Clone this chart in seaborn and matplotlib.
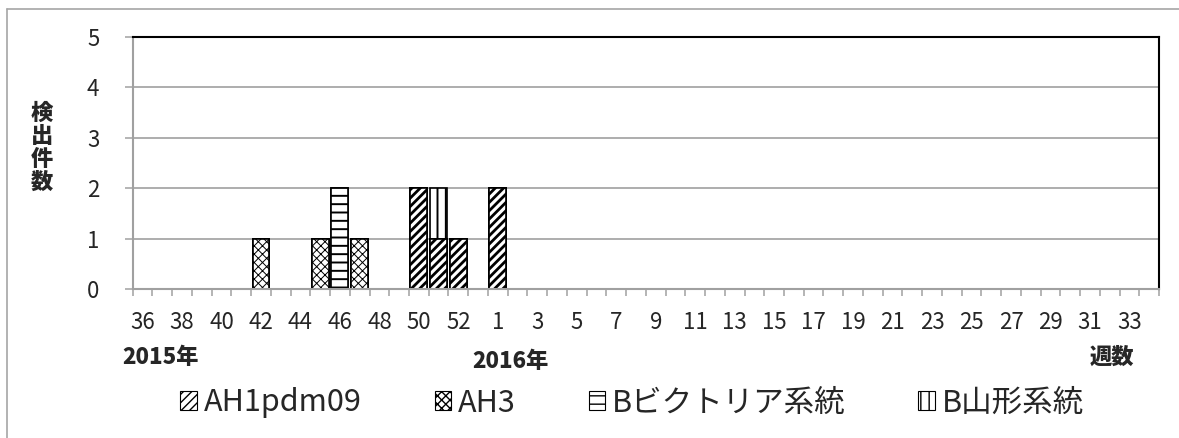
import numpy as np
import pandas as pd
import matplotlib
matplotlib.use("Agg")
import matplotlib.pyplot as plt
from matplotlib.patches import Patch
from matplotlib.lines import Line2D
import seaborn as sns

# week categories: 2015 wk36-53, then 2016 wk1-34
weeks = [str(w) for w in range(36, 54)] + [str(w) for w in range(1, 35)]

#           36 37 38 39 40 41 42 43 44 45 46 47 48 49 50 51 52 53
ah1pdm09 = [0, 0, 0, 0, 0, 0, 0, 0, 0, 0, 0, 0, 0, 0, 2, 1, 1, 0,
            2, 0, 0, 0, 0, 0, 0, 0, 0, 0, 0, 0, 0, 0, 0, 0, 0, 0,
            0, 0, 0, 0, 0, 0, 0, 0, 0, 0, 0, 0, 0, 0, 0, 0]
ah3 = [0, 0, 0, 0, 0, 0, 1, 0, 0, 1, 0, 1, 0, 0, 0, 0, 0, 0,
       0, 0, 0, 0, 0, 0, 0, 0, 0, 0, 0, 0, 0, 0, 0, 0, 0, 0,
       0, 0, 0, 0, 0, 0, 0, 0, 0, 0, 0, 0, 0, 0, 0, 0]
b_victoria = [0, 0, 0, 0, 0, 0, 0, 0, 0, 0, 2, 0, 0, 0, 0, 0, 0, 0,
              0, 0, 0, 0, 0, 0, 0, 0, 0, 0, 0, 0, 0, 0, 0, 0, 0, 0,
              0, 0, 0, 0, 0, 0, 0, 0, 0, 0, 0, 0, 0, 0, 0, 0]
b_yamagata = [0, 0, 0, 0, 0, 0, 0, 0, 0, 0, 0, 0, 0, 0, 0, 1, 0, 0,
              0, 0, 0, 0, 0, 0, 0, 0, 0, 0, 0, 0, 0, 0, 0, 0, 0, 0,
              0, 0, 0, 0, 0, 0, 0, 0, 0, 0, 0, 0, 0, 0, 0, 0]

series = ["AH1pdm09", "AH3", "Bビクトリア系統", "B山形系統"]
hatches = ["////", "xxxx", "--", "||"]
hatch_lw = [2.0, 0.7, 1.4, 1.4]

df = pd.DataFrame({"week": weeks, "AH1pdm09": ah1pdm09, "AH3": ah3,
                   "Bビクトリア系統": b_victoria, "B山形系統": b_yamagata})
cum = df[series].cumsum(axis=1)

sns.set_style("white")
plt.rcParams["font.family"] = ["Noto Sans CJK JP", "DejaVu Sans"]

fig = plt.figure(figsize=(11.79, 4.38), dpi=100)
ax = fig.add_axes([132.7 / 1179, 1 - 289 / 438, (1159 - 132.7) / 1179, (289 - 36.7) / 438])

# stacked look: draw cumulative totals from the top layer down
for name, hatch, hlw in reversed(list(zip(series, hatches, hatch_lw))):
    plt.rcParams["hatch.linewidth"] = hlw
    d = pd.DataFrame({"week": weeks, "h": cum[name].replace(0, np.nan)})
    sns.barplot(data=d, x="week", y="h", order=weeks, color="white", saturation=1,
                edgecolor="black", linewidth=1.2, hatch=hatch, width=0.86,
                errorbar=None, ax=ax)

grey = "#a0a0a0"
ax.set_xlabel("")
ax.set_ylabel("")
ax.set_xlim(-0.5, 51.5)
ax.set_ylim(0, 5)
ax.set_yticks(range(6))
ax.set_xticks(np.arange(-0.5, 52, 1))
ax.set_xticklabels([])
ax.set_xticks(np.arange(0, 52, 2), [weeks[i] for i in range(0, 52, 2)], minor=True)
ax.tick_params(axis="x", which="major", length=5, width=1.1, color=grey, bottom=True)
ax.tick_params(axis="x", which="minor", length=0, pad=16, labelsize=16, bottom=True)
ax.tick_params(axis="y", which="major", length=6, width=1.1, color=grey, pad=18,
               labelsize=16, left=True)
ax.yaxis.grid(True, color=grey, lw=1.2)
ax.set_axisbelow(True)
for s in ["top", "right"]:
    ax.spines[s].set_color("black")
    ax.spines[s].set_linewidth(1.5)
for s in ["left", "bottom"]:
    ax.spines[s].set_color(grey)
    ax.spines[s].set_linewidth(1.5)

fig.text(42 / 1179, 1 - 148 / 438, "検\n出\n件\n数", ha="center", va="center",
         fontsize=16, fontweight="heavy", linespacing=1.0)
fig.text(161 / 1179, 1 - 357 / 438, "2015年", ha="center", va="center", fontsize=16, fontweight="heavy")
fig.text(511 / 1179, 1 - 362 / 438, "2016年", ha="center", va="center", fontsize=16, fontweight="heavy")
fig.text(1112 / 1179, 1 - 357 / 438, "週数", ha="center", va="center", fontsize=16, fontweight="heavy")

# legend swatches, each with its own hatch weight
handles = []
for h, hlw in zip(hatches, [1.6, 0.6, 1.0, 1.0]):
    plt.rcParams["hatch.linewidth"] = hlw
    handles.append(Patch(facecolor="white", edgecolor="black", hatch=h, lw=0.8))
fig.legend(handles, series, loc="center", bbox_to_anchor=(632 / 1179, 1 - 403 / 438), ncol=4,
           frameon=False, fontsize=22, handlelength=0.55, handleheight=0.55,
           handletextpad=0.2, columnspacing=2.4)

# outer chart border (left and top only)
fig.add_artist(Line2D([7 / 1179, 7 / 1179], [0, 1 - 9 / 438], transform=fig.transFigure, color="#a6a6a6", lw=1.2))
fig.add_artist(Line2D([7 / 1179, 1], [1 - 9 / 438, 1 - 9 / 438], transform=fig.transFigure, color="#a6a6a6", lw=1.2))

fig.savefig("out.png", dpi=100)
